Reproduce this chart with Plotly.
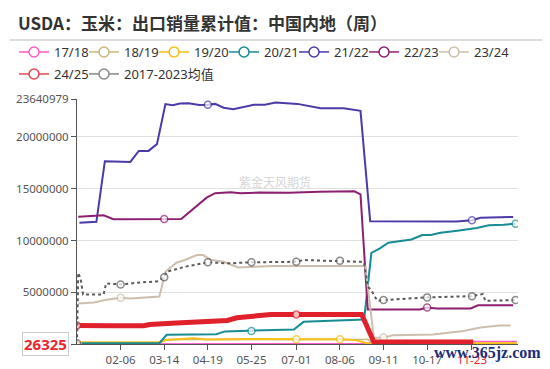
import plotly.graph_objects as go

YEAR = "2023"
TICK_DATES = ["01-01", "02-06", "03-14", "04-19", "05-25", "07-01",
              "08-06", "09-11", "10-17", "11-23", "12-29"]
TICK_LABELS = ["02-06", "03-14", "04-19", "05-25", "07-01",
               "08-06", "09-11", "10-17", "11-23"]
Y_MIN = 26325
Y_MAX = 23640979
Y_TICKS = [5000000, 10000000, 15000000, 20000000, 23640979]

TITLE = "USDA：玉米：出口销量累计值：中国内地（周）"
SERIES_NAMES = ["17/18", "18/19", "19/20", "20/21", "21/22", "22/23", "23/24", "24/25", "2017-2023均值"]

# ---- data (cumulative export sales, tonnes) ----
d_1718 = ["01-02", "08-29", "09-03", "12-30"]
v_1718 = [30000, 50000, 270000, 270000]

d_1819 = ["01-02", "03-10", "03-16", "08-29", "09-03", "12-30"]
v_1819 = [150000, 150000, 450000, 450000, 100000, 100000]

d_1920 = ["01-02", "03-10", "03-16", "04-07", "04-18", "05-24", "07-01", "08-06", "08-19", "08-29", "12-30"]
v_1920 = [200000, 200000, 420000, 590000, 460000, 520000, 490000, 490000, 400000, 80000, 100000]

d_2021 = ["01-05", "03-10", "03-16", "04-26", "05-03", "05-25", "06-29", "07-07", "08-23", "08-26",
          "09-01", "09-08", "09-15", "09-26", "10-04", "10-13", "10-20", "10-28", "11-05", "11-11",
          "11-27", "12-07", "12-19", "12-29"]
v_2021 = [100000, 100000, 910000, 970000, 1240000, 1290000, 1430000, 2160000, 2330000, 2390000,
          8820000, 9250000, 9790000, 9950000, 10100000, 10530000, 10530000, 10750000, 10850000, 10950000,
          11200000, 11480000, 11530000, 11620000]

d_2122 = ["01-03", "01-17", "01-24", "02-14", "02-21", "03-01", "03-08", "03-15", "03-21", "03-27",
          "04-03", "04-12", "04-19", "04-25", "05-02", "05-10", "05-27", "06-05", "06-14", "07-02",
          "07-21", "08-09", "08-23", "08-31", "11-10", "11-23", "11-30", "12-27"]
v_2122 = [11720000, 11800000, 17650000, 17580000, 18640000, 18640000, 19290000, 23150000, 23050000, 23200000,
          23240000, 23070000, 23080000, 23170000, 22800000, 22660000, 23080000, 23080000, 23300000, 23170000,
          22760000, 22760000, 22500000, 11850000, 11830000, 11950000, 12200000, 12270000]

d_2223 = ["01-02", "01-23", "01-31", "03-14", "03-28", "04-18", "04-25", "05-08", "05-16", "05-31",
          "06-25", "07-20", "08-11", "08-18", "08-23", "08-29", "10-11", "10-17", "10-25", "11-22",
          "11-28", "12-27"]
v_2223 = [12300000, 12430000, 12050000, 12080000, 12080000, 14130000, 14560000, 14650000, 14550000, 14620000,
          14600000, 14700000, 14780000, 14750000, 14450000, 3360000, 3360000, 3550000, 3460000, 3460000,
          3750000, 3750000]

d_2324 = ["01-02", "01-15", "01-24", "02-06", "02-14", "03-05", "03-10", "03-15", "03-24", "03-31",
          "04-10", "04-15", "04-22", "05-02", "05-14", "06-12", "08-27", "09-03", "09-11", "09-19",
          "10-22", "11-16", "11-30", "12-16", "12-25"]
v_2324 = [3940000, 4030000, 4260000, 4480000, 4420000, 4550000, 4600000, 6990000, 7860000, 8120000,
          8600000, 8600000, 8120000, 7950000, 7410000, 7540000, 7540000, 620000, 660000, 880000,
          950000, 1290000, 1620000, 1810000, 1810000]

d_2425 = ["01-01", "01-21", "01-28", "02-25", "03-02", "03-24", "04-15", "05-05", "05-13", "06-01",
          "06-10", "07-01", "08-24", "09-03", "11-24"]
v_2425 = [1810000, 1870000, 1780000, 1780000, 1910000, 2040000, 2160000, 2300000, 2550000, 2810000,
          2880000, 2880000, 2880000, 230000, 230000]

d_avg = ["01-01", "01-02", "01-04", "01-06", "01-23", "01-25", "02-06", "02-20", "02-24", "03-08",
         "03-14", "03-16", "03-31", "04-19", "05-06", "05-25", "07-01", "07-07", "08-06", "08-23",
         "08-26", "08-29", "09-01", "09-03", "09-06", "09-11", "10-17", "11-23", "12-02", "12-04", "12-29"]
v_avg = [100000, 6900000, 6300000, 4800000, 4810000, 5870000, 5770000, 5870000, 5970000, 6060000,
         6450000, 6990000, 7470000, 7900000, 7800000, 7900000, 7950000, 8120000, 8050000, 7950000,
         7860000, 5540000, 5220000, 4740000, 4190000, 4260000, 4520000, 4640000, 4840000, 4190000, 4260000]

SERIES = [
    (d_1718, v_1718, "#ff5ac8", 1.5, "solid"),
    (d_1819, v_1819, "#c9b57c", 1.5, "solid"),
    (d_1920, v_1920, "#f7be16", 2, "solid"),
    (d_2021, v_2021, "#178c95", 2, "solid"),
    (d_2122, v_2122, "#4b3aa8", 2, "solid"),
    (d_2223, v_2223, "#8e1f70", 2, "solid"),
    (d_2324, v_2324, "#cdbfae", 2, "solid"),
    (d_2425, v_2425, "#e0202a", 5, "solid"),
    (d_avg, v_avg, "#5a5a5a", 2, "dot"),
]
LEGEND_COLORS = ["#ff5ac8", "#c9b57c", "#f7be16", "#178c95", "#4b3aa8", "#8e1f70", "#cdbfae", "#e8474f", "#888888"]
LEGEND_ROW = [0, 0, 0, 0, 0, 0, 0, 1, 1]
LEGEND_COL = [0, 1, 2, 3, 4, 5, 6, 0, 1]

# The page body adds an 8px margin, so the figure is drawn 8px smaller and all
# targets (given in window pixels) are shifted by OFF.
OFF = 8
W, H = 550 - OFF, 369 - OFF
PLOT_L, PLOT_R, PLOT_T, PLOT_B = 77 - OFF, 518 - OFF, 99 - OFF, 344 - OFF
ML, MR, MT, MB = PLOT_L, W - PLOT_R, PLOT_T, H - PLOT_B
PW, PH = PLOT_R - PLOT_L, PLOT_B - PLOT_T


def px_x(px):
    return (px - OFF - ML) / PW


def px_y(py):
    return (PLOT_B - (py - OFF)) / PH


def full(d):
    return [f"{YEAR}-{x}" for x in d]


fig = go.Figure()
for name, (d, v, color, lw, dash) in zip(SERIES_NAMES, SERIES):
    sizes = [7 if x in TICK_DATES else 0 for x in d]
    fig.add_trace(go.Scatter(
        x=full(d), y=v, mode="lines+markers", name=name, showlegend=False,
        line=dict(color=color, width=lw, dash=dash),
        marker=dict(size=sizes, color="white", line=dict(color=color, width=1.5), symbol="circle"),
        hoverinfo="x+y+name",
    ))

legend_layouts = {}
for i, (name, lcol, row, col) in enumerate(zip(SERIES_NAMES, LEGEND_COLORS, LEGEND_ROW, LEGEND_COL)):
    lid = "legend" if i == 0 else f"legend{i + 1}"
    fig.add_trace(go.Scatter(
        x=[None], y=[None], mode="lines+markers", name=name, showlegend=True, legend=lid,
        line=dict(color=lcol, width=1.5),
        marker=dict(size=10, color="white", line=dict(color=lcol, width=1.5)),
    ))
    legend_layouts[lid] = dict(
        orientation="h", xref="paper", yref="paper", xanchor="left", yanchor="middle",
        x=px_x(14 + 70 * col), y=px_y(52 + 22 * row),
        font=dict(family="Noto Sans, Noto Sans CJK SC", size=13, color="#333"),
        bgcolor="rgba(0,0,0,0)", itemclick=False)

tickvals_x = [f"{YEAR}-{t}" for t in TICK_LABELS]
ticktext_x = [t if t != "11-23" else f"<span style='color:#e8262e'>{t}</span>" for t in TICK_LABELS]

fig.update_layout(
    width=W, height=H,
    margin=dict(l=ML, r=MR, t=MT, b=MB, autoexpand=False),
    paper_bgcolor="white", plot_bgcolor="white",
    font=dict(family="Noto Sans, Noto Sans CJK SC", color="#444", size=12),
    title=dict(text=TITLE, x=(18 - OFF) / W, xanchor="left", xref="container",
               y=1 - (24 - OFF) / H, yanchor="middle", yref="container",
               font=dict(family="Noto Sans CJK SC", size=17, color="#333", weight="bold")),
    showlegend=True,
    xaxis=dict(type="date", range=[f"{YEAR}-01-01", f"{YEAR}-12-31"],
               tickvals=tickvals_x, ticktext=ticktext_x,
               showgrid=False, showline=True, linecolor="#555", linewidth=1,
               ticks="outside", ticklen=5, tickcolor="#555", automargin=False,
               tickfont=dict(size=11.5, color="#555"), zeroline=False),
    yaxis=dict(range=[Y_MIN, Y_MAX], tickvals=[Y_MIN] + Y_TICKS,
               ticktext=[""] + [str(t) for t in Y_TICKS],
               showgrid=True, gridcolor="#e0e0e0", gridwidth=1,
               showline=True, linecolor="#555", linewidth=1, automargin=False,
               ticks="outside", ticklen=5, tickcolor="#555",
               tickfont=dict(size=11.5, color="#555"), zeroline=False),
    hovermode="closest",
    **legend_layouts,
)

fig.add_shape(type="line", xref="paper", yref="paper", x0=px_x(10), x1=px_x(547), y0=px_y(40), y1=px_y(40),
              line=dict(color="#bbbbbb", width=1))

fig.add_annotation(text="紫金天风期货", xref="paper", yref="paper", x=px_x(275), y=px_y(181),
                   showarrow=False, font=dict(family="Noto Sans CJK SC", size=12, color="#d6d6d6"))

fig.add_annotation(text=f"<b>{Y_MIN}</b>", xref="paper", yref="y", x=px_x(69), y=Y_MIN,
                   xanchor="right", yanchor="middle", showarrow=False,
                   font=dict(family="Noto Sans", size=15, color="#e8262e"),
                   bgcolor="white", bordercolor="#cccccc", borderwidth=1, borderpad=1)

fig.add_annotation(text="<b>www.365jz.com</b>", xref="paper", yref="paper", x=px_x(543), y=px_y(353),
                   xanchor="right", yanchor="middle", showarrow=False,
                   font=dict(family="Liberation Serif", size=16, color="#1c2e78"))

fig.write_html("out.html")
